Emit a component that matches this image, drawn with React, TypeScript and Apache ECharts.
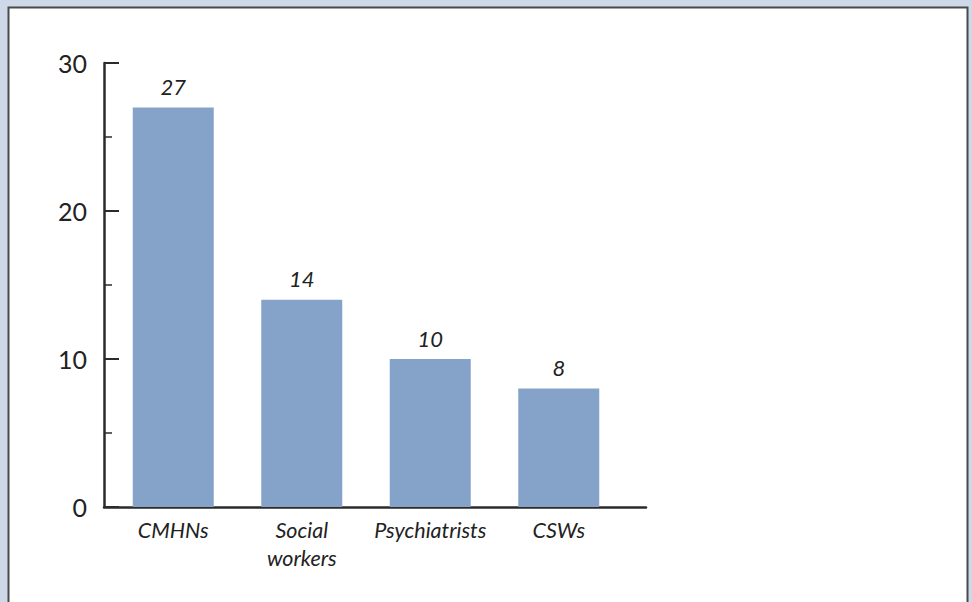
import React, { useEffect, useRef } from "react";
import * as echarts from "echarts";

const categories = ["CMHNs", "Social\nworkers", "Psychiatrists", "CSWs"];
const values = [27, 14, 10, 8];
const yTicks = [0, 30, 10];

export default function App() {
  const ref = useRef<HTMLDivElement>(null);
  useEffect(() => {
    document.body.style.margin = "0";
    const chart = echarts.init(ref.current!, undefined, { renderer: "svg" });
    const font = "Lato, 'Open Sans', sans-serif";
    chart.setOption({
      animation: false,
      backgroundColor: "#cdd9e8",
      graphic: [
        {
          type: "rect",
          z: -10,
          shape: { x: 8.5, y: 7.5, width: 959, height: 610 },
          style: { fill: "#ffffff", stroke: "#4a4a4a", lineWidth: 2 },
        },
      ],
      grid: [
        { left: 104, right: 326, top: 63, bottom: 95 },
        { left: 109, width: 514, top: 63, bottom: 95 },
      ],
      xAxis: [
        {
          gridIndex: 0,
          type: "value",
          min: 0,
          max: 1,
          axisLine: { show: true, lineStyle: { color: "#2b2b2b", width: 2.5 } },
          axisTick: { show: false },
          axisLabel: { show: false },
          splitLine: { show: false },
        },
        {
          gridIndex: 1,
          type: "category",
          data: categories,
          axisLine: { show: false },
          axisTick: { show: false },
          axisLabel: {
            interval: 0,
            margin: 9,
            fontFamily: font,
            fontStyle: "italic",
            fontSize: 21.5,
            lineHeight: 28,
            color: "#222",
          },
        },
      ],
      yAxis: [
        {
          gridIndex: 0,
          type: "value",
          min: yTicks[0],
          max: yTicks[1],
          interval: yTicks[2],
          axisLine: { show: true, lineStyle: { color: "#2b2b2b", width: 2.5 } },
          axisTick: { show: true, inside: true, length: 15, lineStyle: { color: "#2b2b2b", width: 2 } },
          minorTick: { show: true, splitNumber: 2, length: 8, lineStyle: { color: "#2b2b2b", width: 1.5 } },
          axisLabel: {
            margin: 17,
            fontFamily: font,
            fontSize: 25,
            color: "#222",
            padding: [0, 0, 6, 0],
          },
          splitLine: { show: false },
        },
        {
          gridIndex: 1,
          type: "value",
          min: yTicks[0],
          max: yTicks[1],
          show: false,
        },
      ],
      series: [
        {
          type: "bar",
          xAxisIndex: 1,
          yAxisIndex: 1,
          data: values,
          barWidth: 81,
          itemStyle: { color: "#85a3c8" },
          label: {
            show: true,
            position: "top",
            distance: 10,
            fontFamily: font,
            fontStyle: "italic",
            fontSize: 22,
            color: "#222",
          },
        },
      ],
    });
    return () => chart.dispose();
  }, []);
  return <div ref={ref} style={{ width: 972, height: 602 }} />;
}
